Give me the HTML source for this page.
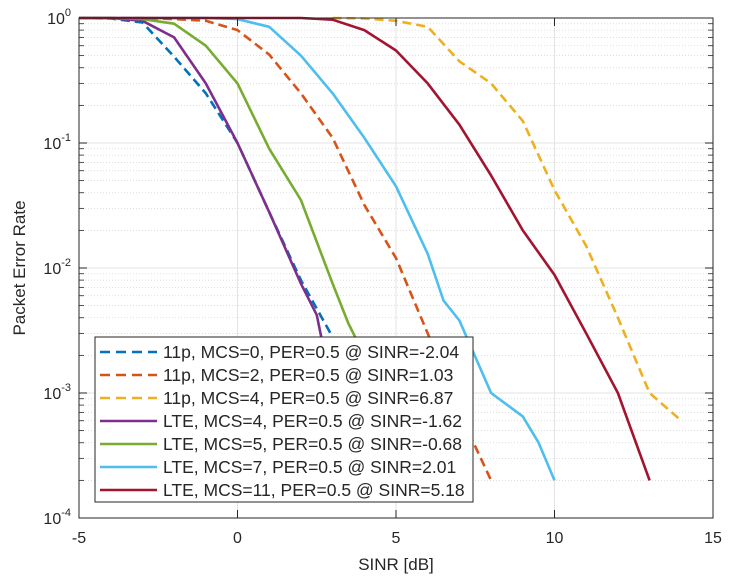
<!DOCTYPE html>
<html><head><meta charset="utf-8"><style>
html,body{margin:0;padding:0;background:#fff;width:730px;height:585px;overflow:hidden}
svg text{font-family:"Liberation Sans",Arial,sans-serif;fill:#262626}
</style></head><body>
<svg id="chart" width="730" height="585" viewBox="0 0 730 585" xmlns="http://www.w3.org/2000/svg">
<g id="grid"></g>
<g id="series"></g>
<g id="axes"></g>
<g id="legend"></g>
</svg>
<script>
const xTicks=[-5,0,5,10,15];
const yExps=[0,-1,-2,-3,-4];
const names=["11p, MCS=0, PER=0.5 @ SINR=-2.04","11p, MCS=2, PER=0.5 @ SINR=1.03","11p, MCS=4, PER=0.5 @ SINR=6.87","LTE, MCS=4, PER=0.5 @ SINR=-1.62","LTE, MCS=5, PER=0.5 @ SINR=-0.68","LTE, MCS=7, PER=0.5 @ SINR=2.01","LTE, MCS=11, PER=0.5 @ SINR=5.18"];
const x11p0=[-5,-4,-3,-2,-1,0,1,2,3,4,5];
const y11p0=[1,0.99,0.92,0.49,0.25,0.1,0.028,0.008,0.0028,0.0008,0.0002];
const x11p2=[-5,-3,-2,-1,0,1,2,3,4,5,6,7,8];
const y11p2=[1,1,0.98,0.95,0.8,0.51,0.25,0.11,0.032,0.012,0.003,0.0007,0.0002];
const x11p4=[3,4,5,6,7,8,9,10,11,12,13,14];
const y11p4=[1,0.99,0.95,0.85,0.45,0.3,0.15,0.042,0.015,0.004,0.001,0.0006];
const xLte4=[-5,-4,-3,-2,-1,0,1,2,2.5,3,3.5,4,4.5];
const yLte4=[1,1,0.95,0.7,0.3,0.1,0.028,0.0075,0.0042,0.001,0.0004,0.00028,0.0002];
const xLte5=[-5,-4,-3,-2,-1,0,1,2,3,3.5,4,5,6];
const yLte5=[1,1,0.98,0.9,0.6,0.3,0.09,0.035,0.0075,0.0036,0.002,0.0008,0.0002];
const xLte7=[-5,-1,0,1,2,3,4,5,6,6.5,7,8,9,9.5,10];
const yLte7=[1,1,0.98,0.85,0.5,0.25,0.11,0.045,0.013,0.0055,0.0038,0.001,0.00065,0.0004,0.0002];
const xLte11=[-5,0,2,3,4,5,6,7,8,9,10,11,12,13];
const yLte11=[1,1,1,0.97,0.8,0.55,0.3,0.14,0.055,0.02,0.0088,0.003,0.001,0.0002];
const seriesX=[x11p0,x11p2,x11p4,xLte4,xLte5,xLte7,xLte11];
const seriesY=[y11p0,y11p2,y11p4,yLte4,yLte5,yLte7,yLte11];
const colors=["#0072BD","#D95319","#EDB120","#7E2F8E","#77AC30","#4DBEEE","#A2142F"];
const dashed=[true,true,true,false,false,false,false];
const L=79,R=713,T=18,B=518;
function sx(v){return L+(v+5)/20*(R-L);}
function sy(v){return T+(-Math.log10(v))/4*(B-T);}
const NS="http://www.w3.org/2000/svg";
function mk(tag,attrs,parent){const e=document.createElementNS(NS,tag);for(const k in attrs)e.setAttribute(k,attrs[k]);parent.appendChild(e);return e;}
const grid=document.getElementById('grid'),axes=document.getElementById('axes'),ser=document.getElementById('series'),leg=document.getElementById('legend');
mk('rect',{x:L,y:T,width:R-L,height:B-T,fill:'#fff'},grid);
for(let d=0;d<4;d++){for(let m=2;m<=9;m++){const y=sy(m*Math.pow(10,-d-1));
const l=mk('line',{x1:L,x2:R,y1:y,y2:y,stroke:'#d4d4d4','stroke-width':0.8,'stroke-dasharray':'1,2'},grid);


mk('line',{x1:L,x2:L+5,y1:y,y2:y,stroke:'#262626','stroke-width':0.8},axes);
mk('line',{x1:R,x2:R-5,y1:y,y2:y,stroke:'#262626','stroke-width':0.8},axes);}}
yExps.forEach(e=>{const y=sy(Math.pow(10,e));
const l=mk('line',{x1:L,x2:R,y1:y,y2:y,stroke:'#e3e3e3','stroke-width':1},grid);


mk('line',{x1:L,x2:L+8,y1:y,y2:y,stroke:'#262626'},axes);mk('line',{x1:R,x2:R-8,y1:y,y2:y,stroke:'#262626'},axes);
const t=mk('text',{x:L-8,y:y+6,'text-anchor':'end','font-size':16},axes);


t.textContent='10';const s=mk('tspan',{dy:-8,'font-size':11},t);s.textContent=String(e);});
xTicks.forEach(v=>{const x=sx(v);
const l=mk('line',{x1:x,x2:x,y1:T,y2:B,stroke:'#e3e3e3','stroke-width':1},grid);


mk('line',{x1:x,x2:x,y1:B,y2:B-8,stroke:'#262626'},axes);mk('line',{x1:x,x2:x,y1:T,y2:T+8,stroke:'#262626'},axes);
const t=mk('text',{x:x,y:B+25,'text-anchor':'middle','font-size':16},axes);


t.textContent=String(v);});
const box=mk('rect',{x:L,y:T,width:R-L,height:B-T,fill:'none',stroke:'#262626','stroke-width':1},axes);


const xl=mk('text',{x:(L+R)/2,y:B+52,'text-anchor':'middle','font-size':17},axes);


xl.textContent='SINR [dB]';
const yl=mk('text',{x:0,y:0,'text-anchor':'middle','font-size':17,transform:`translate(25,${(T+B)/2}) rotate(-90)`},axes);


yl.textContent='Packet Error Rate';
seriesX.forEach((xs,i)=>{const pts=xs.map((v,j)=>sx(v).toFixed(1)+','+sy(seriesY[i][j]).toFixed(1)).join(' ');
const p=mk('polyline',{points:pts,fill:'none',stroke:colors[i],'stroke-width':2.6,'stroke-linejoin':'round'},ser);
if(dashed[i])p.setAttribute('stroke-dasharray','9,5');

});
const lb=mk('rect',{x:95,y:337,width:378,height:165,fill:'#fff',stroke:'#262626','stroke-width':1},leg);


names.forEach((n,i)=>{const y=352+i*23;
const g=mk('g',{},leg);


const ln=mk('line',{x1:100,x2:157,y1:y,y2:y,stroke:colors[i],'stroke-width':2.6},g);
if(dashed[i])ln.setAttribute('stroke-dasharray','10,6');
const t=mk('text',{x:163,y:y+6,'font-size':17.5},g);t.textContent=n;});
</script>
</body></html>
